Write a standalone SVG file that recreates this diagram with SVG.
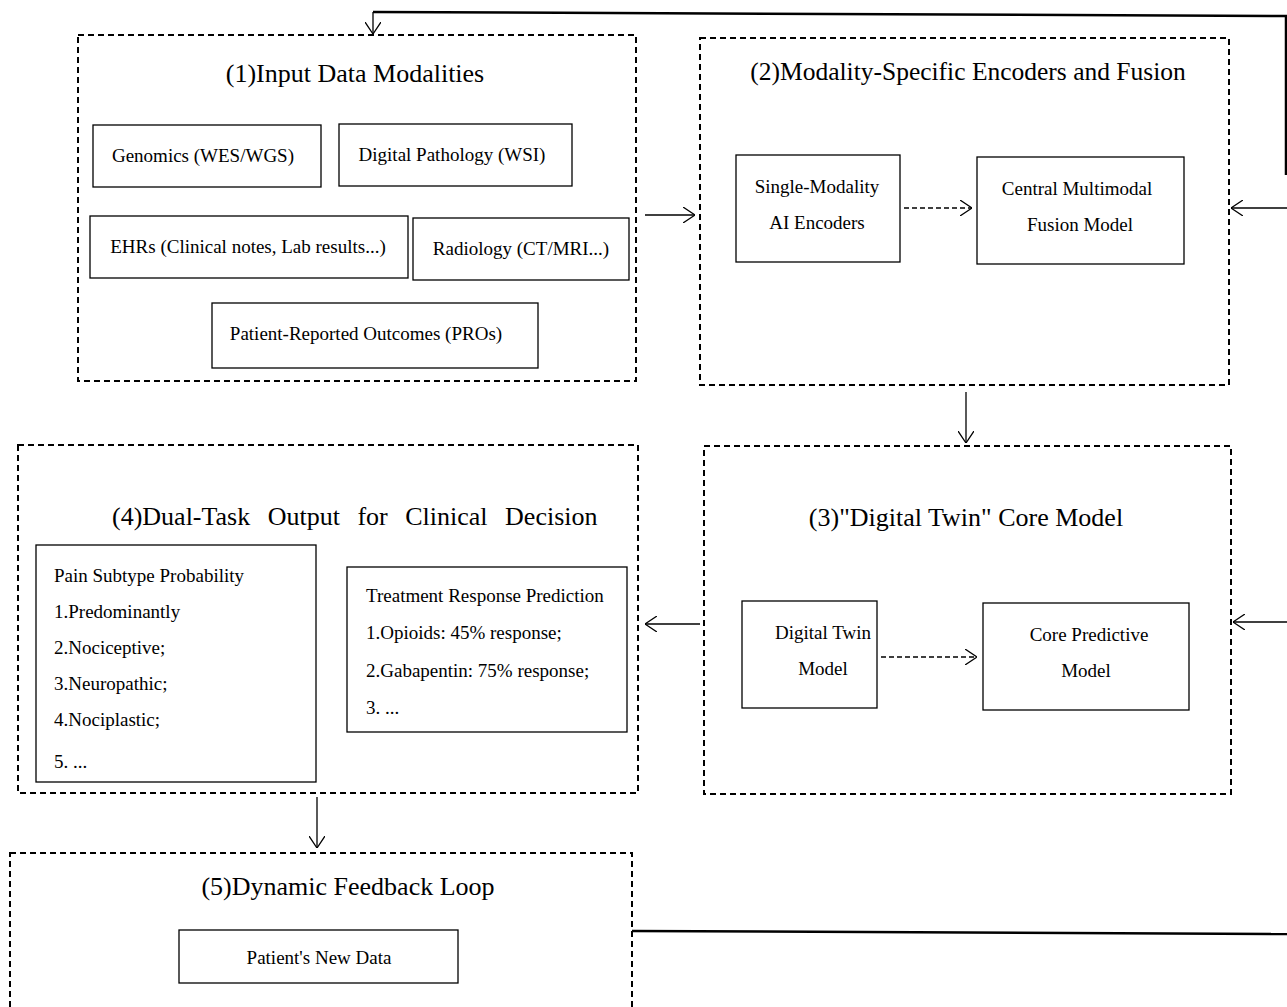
<svg xmlns="http://www.w3.org/2000/svg" width="1287" height="1007" viewBox="0 0 1287 1007">
<style>
.panel{fill:none;stroke:#000;stroke-width:2;stroke-dasharray:6 4}
.box{fill:#fff;stroke:#000;stroke-width:1.3}
.title{font-family:"Liberation Serif","Times New Roman",serif;font-size:26px;fill:#000}
.t{font-family:"Liberation Serif","Times New Roman",serif;font-size:19px;fill:#000}
.conn{fill:none;stroke:#000;stroke-width:1.3}
.dconn{fill:none;stroke:#000;stroke-width:1.3;stroke-dasharray:5 3}
.loop{fill:none;stroke:#000;stroke-width:2.5}
</style>
<defs>
<marker id="ah" viewBox="0 0 12 16" refX="12" refY="8" markerWidth="12" markerHeight="16" markerUnits="userSpaceOnUse" orient="auto">
<path d="M0,0 L12,8 L0,16" fill="none" stroke="#000" stroke-width="1.3"/>
</marker>
</defs>
<g id="panel1">
<rect class="panel" x="78" y="35" width="558" height="346"/>
<text class="title" x="355" y="82" text-anchor="middle">(1)Input Data Modalities</text>
<g id="genomics"><rect class="box" x="93" y="125" width="228" height="62"/><text class="t" x="203" y="162" text-anchor="middle">Genomics (WES/WGS)</text></g>
<g id="pathology"><rect class="box" x="339" y="124" width="233" height="62"/><text class="t" x="452" y="161" text-anchor="middle">Digital Pathology (WSI)</text></g>
<g id="ehrs"><rect class="box" x="90" y="216" width="318" height="62"/><text class="t" x="248" y="253" text-anchor="middle">EHRs (Clinical notes, Lab results...)</text></g>
<g id="radiology"><rect class="box" x="413" y="218" width="216" height="62"/><text class="t" x="521" y="255" text-anchor="middle">Radiology (CT/MRI...)</text></g>
<g id="pros"><rect class="box" x="212" y="303" width="326" height="65"/><text class="t" x="366" y="340" text-anchor="middle">Patient-Reported Outcomes (PROs)</text></g>
</g>
<g id="panel2">
<rect class="panel" x="700" y="38" width="529" height="347"/>
<text class="title" x="968" y="80" text-anchor="middle" style="font-size:25.5px">(2)Modality-Specific Encoders and Fusion</text>
<g id="encoders"><rect class="box" x="736" y="155" width="164" height="107"/><text class="t" x="817" y="193" text-anchor="middle">Single-Modality</text><text class="t" x="817" y="229" text-anchor="middle">AI Encoders</text></g>
<g id="fusion"><rect class="box" x="977" y="157" width="207" height="107"/><text class="t" x="1077" y="195" text-anchor="middle">Central Multimodal</text><text class="t" x="1080" y="231" text-anchor="middle">Fusion Model</text></g>
</g>
<g id="panel3">
<rect class="panel" x="704" y="446" width="527" height="348"/>
<text class="title" x="966" y="526" text-anchor="middle">(3)"Digital Twin" Core Model</text>
<g id="twin"><rect class="box" x="742" y="601" width="135" height="107"/><text class="t" x="823" y="639" text-anchor="middle">Digital Twin</text><text class="t" x="823" y="675" text-anchor="middle">Model</text></g>
<g id="core"><rect class="box" x="983" y="603" width="206" height="107"/><text class="t" x="1089" y="641" text-anchor="middle">Core Predictive</text><text class="t" x="1086" y="677" text-anchor="middle">Model</text></g>
</g>
<g id="panel4">
<rect class="panel" x="18" y="445" width="620" height="348"/>
<text class="title" x="112" y="525" word-spacing="11">(4)Dual-Task Output for Clinical Decision</text>
<g id="subtype"><rect class="box" x="36" y="545" width="280" height="237"/>
<text class="t" x="54" y="582">Pain Subtype Probability</text>
<text class="t" x="54" y="618">1.Predominantly</text>
<text class="t" x="54" y="654">2.Nociceptive;</text>
<text class="t" x="54" y="690">3.Neuropathic;</text>
<text class="t" x="54" y="726">4.Nociplastic;</text>
<text class="t" x="54" y="768">5. ...</text></g>
<g id="treatment"><rect class="box" x="347" y="567" width="280" height="165"/>
<text class="t" x="366" y="602">Treatment Response Prediction</text>
<text class="t" x="366" y="639">1.Opioids: 45% response;</text>
<text class="t" x="366" y="677">2.Gabapentin: 75% response;</text>
<text class="t" x="366" y="714">3. ...</text></g>
</g>
<g id="panel5">
<rect class="panel" x="10" y="853" width="622" height="170"/>
<text class="title" x="348" y="895" text-anchor="middle">(5)Dynamic Feedback Loop</text>
<g id="newdata"><rect class="box" x="179" y="930" width="279" height="53"/><text class="t" x="319" y="964" text-anchor="middle">Patient's New Data</text></g>
</g>
<g id="connectors">
<line class="conn" x1="645" y1="215" x2="695" y2="215" marker-end="url(#ah)"/>
<line class="dconn" x1="904" y1="208" x2="972" y2="208" marker-end="url(#ah)"/>
<line class="conn" x1="966" y1="392" x2="966" y2="443" marker-end="url(#ah)"/>
<line class="dconn" x1="881" y1="657" x2="977" y2="657" marker-end="url(#ah)"/>
<line class="conn" x1="700" y1="624" x2="645" y2="624" marker-end="url(#ah)"/>
<line class="conn" x1="317" y1="797" x2="317" y2="848" marker-end="url(#ah)"/>
<polyline class="loop" points="632,931 1287,934"/>
<polyline class="loop" points="1286,175 1286,16 373,12"/>
<line class="conn" x1="373" y1="12" x2="373" y2="34" marker-end="url(#ah)"/>
<line class="conn" x1="1287" y1="208" x2="1231" y2="208" marker-end="url(#ah)"/>
<line class="conn" x1="1287" y1="622" x2="1233" y2="622" marker-end="url(#ah)"/>
</g>
</svg>
